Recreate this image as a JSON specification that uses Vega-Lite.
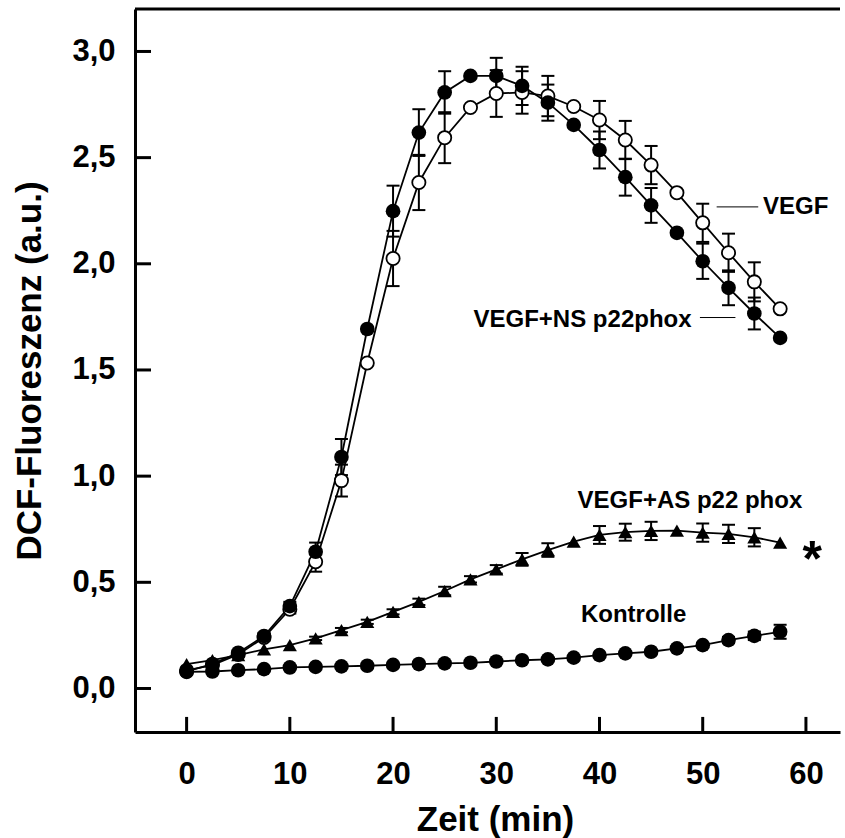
{
  "$schema": "https://vega.github.io/schema/vega-lite/v6.json",
  "autosize": "none",
  "width": 705,
  "height": 723,
  "padding": {"left": 135, "top": 9, "right": 5, "bottom": 106},
  "background": "white",
  "config": {
    "font": "Liberation Sans",
    "view": {"stroke": null},
    "axis": {
      "grid": false,
      "domainColor": "black",
      "domainWidth": 3,
      "tickColor": "black",
      "tickWidth": 3,
      "labelColor": "black",
      "labelFont": "Liberation Sans",
      "labelFontWeight": "bold",
      "labelFontSize": 31,
      "titleColor": "black",
      "titleFont": "Liberation Sans",
      "titleFontWeight": "bold",
      "titleFontSize": 35
    }
  },
  "datasets": {
    "series": [
      {"s": "VEGF", "t": 0, "v": 0.085, "e": 0},
      {"s": "VEGF", "t": 2.5, "v": 0.11, "e": 0},
      {"s": "VEGF", "t": 5, "v": 0.16, "e": 0.01},
      {"s": "VEGF", "t": 7.5, "v": 0.24, "e": 0.015},
      {"s": "VEGF", "t": 10, "v": 0.373, "e": 0.02},
      {"s": "VEGF", "t": 12.5, "v": 0.597, "e": 0.047},
      {"s": "VEGF", "t": 15, "v": 0.979, "e": 0.075},
      {"s": "VEGF", "t": 17.5, "v": 1.533, "e": 0},
      {"s": "VEGF", "t": 20, "v": 2.025, "e": 0.13},
      {"s": "VEGF", "t": 22.5, "v": 2.383, "e": 0.13},
      {"s": "VEGF", "t": 25, "v": 2.594, "e": 0.12},
      {"s": "VEGF", "t": 27.5, "v": 2.736, "e": 0},
      {"s": "VEGF", "t": 30, "v": 2.802, "e": 0.11},
      {"s": "VEGF", "t": 32.5, "v": 2.807, "e": 0.1},
      {"s": "VEGF", "t": 35, "v": 2.79, "e": 0.095},
      {"s": "VEGF", "t": 37.5, "v": 2.741, "e": 0},
      {"s": "VEGF", "t": 40, "v": 2.677, "e": 0.09},
      {"s": "VEGF", "t": 42.5, "v": 2.583, "e": 0.09},
      {"s": "VEGF", "t": 45, "v": 2.465, "e": 0.09},
      {"s": "VEGF", "t": 47.5, "v": 2.335, "e": 0},
      {"s": "VEGF", "t": 50, "v": 2.193, "e": 0.09},
      {"s": "VEGF", "t": 52.5, "v": 2.052, "e": 0.09},
      {"s": "VEGF", "t": 55, "v": 1.915, "e": 0.092},
      {"s": "VEGF", "t": 57.5, "v": 1.788, "e": 0},
      {"s": "NS", "t": 0, "v": 0.08, "e": 0},
      {"s": "NS", "t": 2.5, "v": 0.115, "e": 0},
      {"s": "NS", "t": 5, "v": 0.168, "e": 0.01},
      {"s": "NS", "t": 7.5, "v": 0.247, "e": 0.015},
      {"s": "NS", "t": 10, "v": 0.388, "e": 0.02},
      {"s": "NS", "t": 12.5, "v": 0.644, "e": 0.043},
      {"s": "NS", "t": 15, "v": 1.09, "e": 0.085},
      {"s": "NS", "t": 17.5, "v": 1.693, "e": 0},
      {"s": "NS", "t": 20, "v": 2.248, "e": 0.12},
      {"s": "NS", "t": 22.5, "v": 2.618, "e": 0.11},
      {"s": "NS", "t": 25, "v": 2.807, "e": 0.1},
      {"s": "NS", "t": 27.5, "v": 2.885, "e": 0},
      {"s": "NS", "t": 30, "v": 2.885, "e": 0.085},
      {"s": "NS", "t": 32.5, "v": 2.838, "e": 0.09},
      {"s": "NS", "t": 35, "v": 2.759, "e": 0.085},
      {"s": "NS", "t": 37.5, "v": 2.654, "e": 0},
      {"s": "NS", "t": 40, "v": 2.536, "e": 0.087},
      {"s": "NS", "t": 42.5, "v": 2.408, "e": 0.087},
      {"s": "NS", "t": 45, "v": 2.275, "e": 0.082},
      {"s": "NS", "t": 47.5, "v": 2.146, "e": 0},
      {"s": "NS", "t": 50, "v": 2.012, "e": 0.083},
      {"s": "NS", "t": 52.5, "v": 1.887, "e": 0.082},
      {"s": "NS", "t": 55, "v": 1.766, "e": 0.075},
      {"s": "NS", "t": 57.5, "v": 1.651, "e": 0},
      {"s": "AS", "t": 0, "v": 0.115, "e": 0},
      {"s": "AS", "t": 2.5, "v": 0.133, "e": 0},
      {"s": "AS", "t": 5, "v": 0.157, "e": 0},
      {"s": "AS", "t": 7.5, "v": 0.184, "e": 0},
      {"s": "AS", "t": 10, "v": 0.204, "e": 0},
      {"s": "AS", "t": 12.5, "v": 0.236, "e": 0.008},
      {"s": "AS", "t": 15, "v": 0.275, "e": 0.01},
      {"s": "AS", "t": 17.5, "v": 0.314, "e": 0.01},
      {"s": "AS", "t": 20, "v": 0.361, "e": 0.012},
      {"s": "AS", "t": 22.5, "v": 0.408, "e": 0.015},
      {"s": "AS", "t": 25, "v": 0.459, "e": 0.02},
      {"s": "AS", "t": 27.5, "v": 0.514, "e": 0.015},
      {"s": "AS", "t": 30, "v": 0.561, "e": 0.02},
      {"s": "AS", "t": 32.5, "v": 0.608, "e": 0.03},
      {"s": "AS", "t": 35, "v": 0.652, "e": 0.032},
      {"s": "AS", "t": 37.5, "v": 0.692, "e": 0},
      {"s": "AS", "t": 40, "v": 0.723, "e": 0.042},
      {"s": "AS", "t": 42.5, "v": 0.736, "e": 0.04},
      {"s": "AS", "t": 45, "v": 0.742, "e": 0.043},
      {"s": "AS", "t": 47.5, "v": 0.743, "e": 0},
      {"s": "AS", "t": 50, "v": 0.734, "e": 0.043},
      {"s": "AS", "t": 52.5, "v": 0.728, "e": 0.043},
      {"s": "AS", "t": 55, "v": 0.712, "e": 0.043},
      {"s": "AS", "t": 57.5, "v": 0.687, "e": 0},
      {"s": "K", "t": 0, "v": 0.078, "e": 0},
      {"s": "K", "t": 2.5, "v": 0.08, "e": 0},
      {"s": "K", "t": 5, "v": 0.086, "e": 0},
      {"s": "K", "t": 7.5, "v": 0.091, "e": 0},
      {"s": "K", "t": 10, "v": 0.099, "e": 0},
      {"s": "K", "t": 12.5, "v": 0.102, "e": 0},
      {"s": "K", "t": 15, "v": 0.104, "e": 0},
      {"s": "K", "t": 17.5, "v": 0.107, "e": 0},
      {"s": "K", "t": 20, "v": 0.111, "e": 0},
      {"s": "K", "t": 22.5, "v": 0.115, "e": 0},
      {"s": "K", "t": 25, "v": 0.118, "e": 0},
      {"s": "K", "t": 27.5, "v": 0.121, "e": 0},
      {"s": "K", "t": 30, "v": 0.127, "e": 0},
      {"s": "K", "t": 32.5, "v": 0.133, "e": 0},
      {"s": "K", "t": 35, "v": 0.137, "e": 0},
      {"s": "K", "t": 37.5, "v": 0.145, "e": 0},
      {"s": "K", "t": 40, "v": 0.157, "e": 0},
      {"s": "K", "t": 42.5, "v": 0.165, "e": 0},
      {"s": "K", "t": 45, "v": 0.173, "e": 0},
      {"s": "K", "t": 47.5, "v": 0.189, "e": 0.008},
      {"s": "K", "t": 50, "v": 0.204, "e": 0.01},
      {"s": "K", "t": 52.5, "v": 0.228, "e": 0.015},
      {"s": "K", "t": 55, "v": 0.248, "e": 0.02},
      {"s": "K", "t": 57.5, "v": 0.267, "e": 0.033}
    ],
    "labels": [
      {"kind": "left", "t": 55.84, "v": 2.233, "label": "VEGF"},
      {"kind": "right", "t": 48.92, "v": 1.704, "label": "VEGF+NS p22phox"},
      {"kind": "center", "t": 48.76, "v": 0.85, "label": "VEGF+AS p22 phox"},
      {"kind": "center", "t": 43.3, "v": 0.314, "label": "Kontrolle"}
    ],
    "leaders": [
      {"t": 51.35, "t2": 55.38, "v": 2.268},
      {"t": 49.73, "t2": 53.17, "v": 1.747}
    ],
    "stars": [
      {"t": 60.6, "v": 0.658, "label": "*"}
    ],
    "chrome": [
      {"t": -5, "t2": 63.3, "v": 3.2, "v2": 3.2},
      {"t": 0, "t2": 0, "v": -0.205, "v2": -0.134},
      {"t": 10, "t2": 10, "v": -0.205, "v2": -0.134},
      {"t": 20, "t2": 20, "v": -0.205, "v2": -0.134},
      {"t": 30, "t2": 30, "v": -0.205, "v2": -0.134},
      {"t": 40, "t2": 40, "v": -0.205, "v2": -0.134},
      {"t": 50, "t2": 50, "v": -0.205, "v2": -0.134},
      {"t": 60, "t2": 60, "v": -0.205, "v2": -0.134},
      {"t": -5, "t2": -3.45, "v": 0, "v2": 0},
      {"t": -5, "t2": -3.45, "v": 0.5, "v2": 0.5},
      {"t": -5, "t2": -3.45, "v": 1, "v2": 1},
      {"t": -5, "t2": -3.45, "v": 1.5, "v2": 1.5},
      {"t": -5, "t2": -3.45, "v": 2, "v2": 2},
      {"t": -5, "t2": -3.45, "v": 2.5, "v2": 2.5},
      {"t": -5, "t2": -3.45, "v": 3, "v2": 3}
    ]
  },
  "encoding": {
    "x": {
      "field": "t",
      "type": "quantitative",
      "scale": {"domain": [-5, 63.3], "nice": false, "zero": false},
      "axis": {
        "values": [0, 10, 20, 30, 40, 50, 60],
        "format": "d",
        "domain": true,
        "ticks": false,
        "labelPadding": 27,
        "title": "Zeit (min)",
        "titleBaseline": "alphabetic",
        "titleX": 360,
        "titleY": 98
      }
    },
    "y": {
      "field": "v",
      "type": "quantitative",
      "scale": {"domain": [-0.205, 3.2], "nice": false, "zero": false},
      "axis": {
        "values": [0, 0.5, 1, 1.5, 2, 2.5, 3],
        "labelExpr": "replace(format(datum.value, '.1f'), '.', ',')",
        "domain": true,
        "ticks": false,
        "labelPadding": 20,
        "title": "DCF-Fluoreszenz (a.u.)",
        "titleBaseline": "alphabetic",
        "titleX": -95
      }
    }
  },
  "layer": [
    {
      "data": {"name": "series"},
      "transform": [{"filter": "datum.e > 0"}],
      "mark": {
        "type": "errorbar",
        "thickness": 2,
        "color": "black",
        "ticks": {"size": 13, "color": "black", "opacity": 1},
        "rule": {"color": "black", "opacity": 1}
      },
      "encoding": {
        "yError": {"field": "e"},
        "detail": {"field": "s", "type": "nominal"}
      }
    },
    {
      "data": {"name": "series"},
      "mark": {"type": "line", "color": "black", "strokeWidth": 1.8},
      "encoding": {
        "detail": {"field": "s", "type": "nominal"},
        "order": {"field": "t", "type": "quantitative"}
      }
    },
    {
      "data": {"name": "series"},
      "transform": [{"filter": "datum.s == 'VEGF'"}],
      "mark": {"type": "point", "shape": "circle", "filled": true, "fill": "white", "stroke": "black", "strokeWidth": 1.8, "size": 175, "opacity": 1}
    },
    {
      "data": {"name": "series"},
      "transform": [{"filter": "datum.s == 'NS' || datum.s == 'K'"}],
      "mark": {"type": "point", "shape": "circle", "filled": true, "color": "black", "size": 215, "opacity": 1}
    },
    {
      "data": {"name": "series"},
      "transform": [{"filter": "datum.s == 'AS'"}],
      "mark": {"type": "point", "shape": "triangle-up", "filled": true, "color": "black", "size": 200, "opacity": 1}
    },
    {
      "data": {"name": "leaders"},
      "mark": {"type": "rule", "color": "black", "strokeWidth": 1},
      "encoding": {"x2": {"field": "t2"}}
    },
    {
      "data": {"name": "chrome"},
      "mark": {"type": "rule", "color": "black", "strokeWidth": 3},
      "encoding": {"x2": {"field": "t2"}, "y2": {"field": "v2"}}
    },
    {
      "data": {"name": "labels"},
      "transform": [{"filter": "datum.kind == 'left'"}],
      "mark": {"type": "text", "align": "left", "baseline": "alphabetic", "fontSize": 24, "fontWeight": "bold", "font": "Liberation Sans", "color": "black"},
      "encoding": {"text": {"field": "label"}}
    },
    {
      "data": {"name": "labels"},
      "transform": [{"filter": "datum.kind == 'right'"}],
      "mark": {"type": "text", "align": "right", "baseline": "alphabetic", "fontSize": 24, "fontWeight": "bold", "font": "Liberation Sans", "color": "black"},
      "encoding": {"text": {"field": "label"}}
    },
    {
      "data": {"name": "labels"},
      "transform": [{"filter": "datum.kind == 'center'"}],
      "mark": {"type": "text", "align": "center", "baseline": "alphabetic", "fontSize": 24, "fontWeight": "bold", "font": "Liberation Sans", "color": "black"},
      "encoding": {"text": {"field": "label"}}
    },
    {
      "data": {"name": "stars"},
      "mark": {"type": "text", "align": "center", "baseline": "middle", "dy": 12, "fontSize": 50, "fontWeight": "bold", "font": "Liberation Sans", "color": "black"},
      "encoding": {"text": {"field": "label"}}
    }
  ]
}
